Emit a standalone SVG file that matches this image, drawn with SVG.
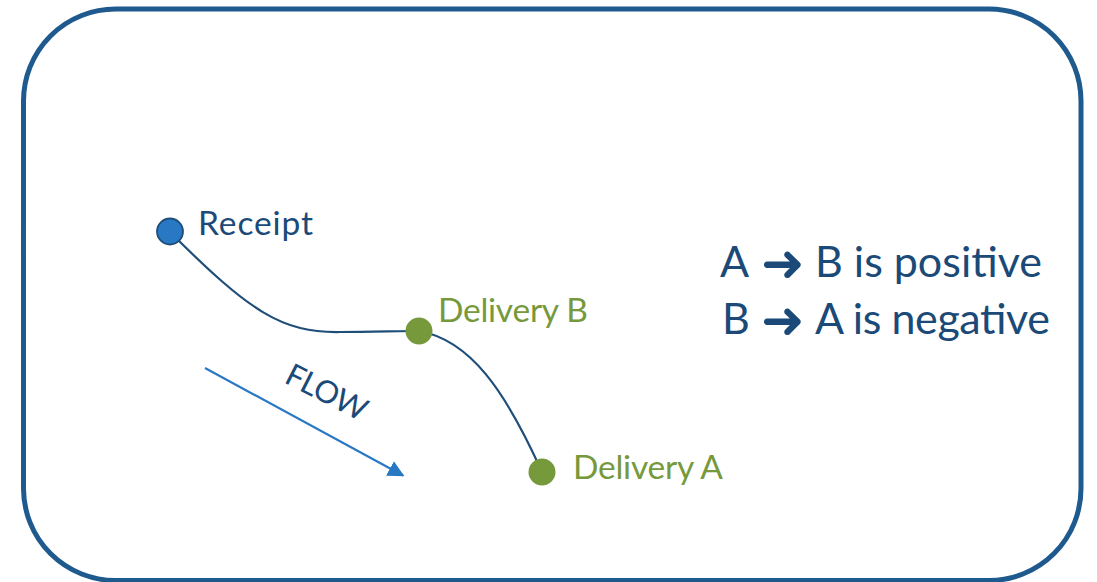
<svg xmlns="http://www.w3.org/2000/svg" width="1097" height="582" viewBox="0 0 1097 582">
<style>
.lbl{font-family:Lato,"Liberation Sans",sans-serif;font-size:33.5px}
.blue{fill:#1B4A78}
.green{fill:#76993C}
.big{font-family:Lato,"Liberation Sans",sans-serif;font-size:43px;fill:#1B4A78}
.arr{font-family:"DejaVu Sans",sans-serif;font-size:52px;fill:#1B4A78}
.conn{fill:none;stroke:#1F4E79;stroke-width:2.2}
</style>
<defs>
<marker id="ah" viewBox="0 0 10 10" refX="9" refY="5" markerWidth="7.5" markerHeight="7.5" markerUnits="strokeWidth" orient="auto">
<path d="M0,0 L10,5 L0,10 Z" fill="#2878C4"/>
</marker>
</defs>
<rect x="0" y="0" width="1097" height="582" fill="#ffffff"/>
<g id="frame">
<rect x="23.5" y="9" width="1057.5" height="571.5" rx="92" ry="92" fill="none" stroke="#1F5A8E" stroke-width="5"/>
</g>
<g id="connectors">
<path class="conn" d="M170,232 C250,312 282,333 340,332 C372,332 398,331 419,331"/>
<path class="conn" d="M419,331 C470,340 505,390 542,472"/>
</g>
<g id="flow">
<line x1="205" y1="368" x2="403" y2="475.5" stroke="#2878C4" stroke-width="2.2" marker-end="url(#ah)"/>
<text class="blue" font-family="Lato, 'Liberation Sans', sans-serif" font-size="31" transform="translate(283,382) rotate(27)" textLength="87" lengthAdjust="spacing">FLOW</text>
</g>
<g id="receipt">
<circle cx="170" cy="231.5" r="13" fill="#2878C4" stroke="#1F4E79" stroke-width="1.8"/>
<text class="lbl blue" x="198" y="235" textLength="115" lengthAdjust="spacing">Receipt</text>
</g>
<g id="deliveryB">
<circle cx="419" cy="331" r="13.5" fill="#76993C"/>
<text class="lbl green" x="438" y="321.5" textLength="150" lengthAdjust="spacing">Delivery B</text>
</g>
<g id="deliveryA">
<circle cx="542" cy="472" r="13.5" fill="#76993C"/>
<text class="lbl green" x="573" y="478.5" textLength="150" lengthAdjust="spacing">Delivery A</text>
</g>
<g id="rules">
<text class="big" x="720" y="276.5">A</text>
<text class="arr" x="761" y="280.5">➜</text>
<text class="big" x="815" y="276.5" textLength="227" lengthAdjust="spacing">B is positive</text>
<text class="big" x="722" y="333.5">B</text>
<text class="arr" x="761" y="337.5">➜</text>
<text class="big" x="815" y="333.5" textLength="235" lengthAdjust="spacing">A is negative</text>
</g>
</svg>
